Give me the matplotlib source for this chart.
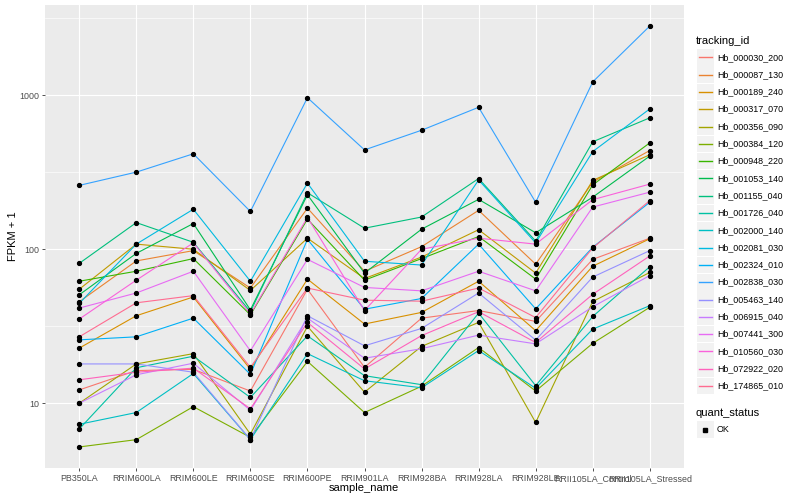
import numpy as np
import matplotlib
matplotlib.use("Agg")
import matplotlib.pyplot as plt
from matplotlib.lines import Line2D
from matplotlib.patches import Rectangle

samples = ["PB350LA", "RRIM600LA", "RRIM600LE", "RRIM600SE", "RRIM600PE", "RRIM901LA",
           "RRIM928BA", "RRIM928LA", "RRIM928LE", "RRII105LA_Control", "RRII105LA_Stressed"]

tracking_ids = ["Hb_000030_200", "Hb_000087_130", "Hb_000189_240", "Hb_000317_070",
                "Hb_000356_090", "Hb_000384_120", "Hb_000948_220", "Hb_001053_140",
                "Hb_001155_040", "Hb_001726_040", "Hb_002000_140", "Hb_002081_030",
                "Hb_002324_010", "Hb_002838_030", "Hb_005463_140", "Hb_006915_040",
                "Hb_007441_300", "Hb_010560_030", "Hb_072922_020", "Hb_174865_010"]

colors = ["#F8766D", "#EA8331", "#D89000", "#C09B00", "#A3A500", "#7CAE00", "#39B600",
          "#00BB4E", "#00BF7D", "#00C1A3", "#00BFC4", "#00BAE0", "#00B0F6", "#35A2FF",
          "#9590FF", "#C77CFF", "#E76BF3", "#FA62DB", "#FF62BC", "#FF6C91"]

# FPKM + 1 values per tracking id, one value per sample
Hb_000030_200 = [12.2, 16.3, 16.6, 12.0, 55, 17.1, 35.7, 40, 34, 86, 118]
Hb_000087_130 = [45.6, 84, 98, 56, 185, 72, 104, 179, 80, 273, 438]
Hb_000189_240 = [22.8, 37, 49, 16.6, 64, 32.7, 38.9, 62, 29.6, 77.6, 117]
Hb_000317_070 = [55, 108, 100, 54, 118, 64.6, 89, 134, 70, 280, 411]
Hb_000356_090 = [10, 18, 21, 6.3, 31.6, 11.8, 23.4, 33.5, 7.5, 45.8, 70.7]
Hb_000384_120 = [5.2, 5.8, 9.5, 6.0, 18.7, 8.7, 12.9, 23, 12.0, 24.5, 42]
Hb_000948_220 = [62, 72, 87, 37.5, 157, 63, 87, 121, 64, 262, 491]
Hb_001053_140 = [50.6, 94, 147, 40.4, 226, 70, 135, 211, 128, 218, 403]
Hb_001155_040 = [81, 149, 111, 39.3, 233, 137, 162, 288, 113, 499, 714]
Hb_001726_040 = [6.8, 17, 20.2, 10.9, 27.4, 15.1, 13.2, 38.5, 13.0, 36.6, 77]
Hb_002000_140 = [7.3, 8.7, 15.6, 5.8, 21, 14.0, 12.6, 22, 12.5, 30.3, 43]
Hb_002081_030 = [44.5, 108, 182, 62, 269, 83.6, 79, 282, 110, 431, 816]
Hb_002324_010 = [25.8, 27, 35.7, 15.4, 116, 40.8, 47.9, 108, 41, 103, 202]
Hb_002838_030 = [260, 317, 417, 176, 965, 442, 593, 836, 202, 1222, 2818]
Hb_005463_140 = [18, 18, 15.9, 5.8, 37, 23.6, 30.6, 52, 25.7, 66, 98]
Hb_006915_040 = [10, 15.3, 18.2, 9.0, 35.7, 19.6, 22.6, 27.7, 24.3, 42.3, 67.5]
Hb_007441_300 = [41.5, 52, 72, 21.9, 86, 56.5, 53.7, 72, 53.7, 188, 235]
Hb_010560_030 = [35.2, 63, 110, 38, 161, 40, 100, 118, 108, 210, 265]
Hb_072922_020 = [14.2, 15.9, 16.9, 9.2, 33.5, 16.7, 27.5, 39.3, 24.8, 51, 90.5]
Hb_174865_010 = [27, 44.9, 50, 17.1, 56, 46.7, 46, 56, 36, 102, 207]

series = [Hb_000030_200, Hb_000087_130, Hb_000189_240, Hb_000317_070, Hb_000356_090,
          Hb_000384_120, Hb_000948_220, Hb_001053_140, Hb_001155_040, Hb_001726_040,
          Hb_002000_140, Hb_002081_030, Hb_002324_010, Hb_002838_030, Hb_005463_140,
          Hb_006915_040, Hb_007441_300, Hb_010560_030, Hb_072922_020, Hb_174865_010]

y_breaks = [10, 100, 1000]
y_minor = [10 ** 1.5, 10 ** 2.5, 10 ** 3.5]

W, H = 800, 500
fig = plt.figure(figsize=(8, 5), dpi=100)
fig.patch.set_facecolor("white")
FONT = "Liberation Sans"
plt.rcParams["font.family"] = [FONT, "DejaVu Sans"]

pl, pr, pt, pb = 45, 684, 5, 468
ax = fig.add_axes([pl / W, 1 - pb / H, (pr - pl) / W, (pb - pt) / H])
ax.set_facecolor("#EBEBEB")
for s in ax.spines.values():
    s.set_visible(False)

x = np.arange(len(samples))
ax.set_yscale("log")
allv = np.log10(np.concatenate([np.asarray(s, float) for s in series]))
lo, hi = allv.min(), allv.max()
r = hi - lo
ax.set_ylim(10 ** (lo - 0.05 * r), 10 ** (hi + 0.05 * r))
ax.set_xlim(-0.6, len(samples) - 1 + 0.6)

# grid
for yv in y_minor:
    ax.axhline(yv, color="white", lw=0.45, zorder=0.5)
for yv in y_breaks:
    ax.axhline(yv, color="white", lw=0.85, zorder=0.6)
for xv in x:
    ax.axvline(xv, color="white", lw=0.85, zorder=0.6)

for vals, c in zip(series, colors):
    ax.plot(x, vals, color=c, lw=0.8, zorder=2, solid_capstyle="butt")
for vals in series:
    ax.plot(x, vals, ls="none", marker="o", ms=2.8, color="black", zorder=3)

ax.set_yticks(y_breaks)
ax.set_yticklabels([str(v) for v in y_breaks])
ax.yaxis.set_minor_locator(matplotlib.ticker.NullLocator())
ax.set_xticks(x)
ax.set_xticklabels(samples)
ax.tick_params(axis="both", which="major", length=2.5, width=0.6, color="#333333",
               labelsize=6.4, labelcolor="#4D4D4D", pad=1.8)

fig.text(364 / W, 1 - 488 / H, "sample_name", ha="center", va="center", fontsize=8, color="black")
fig.text(13 / W, 1 - 236 / H, "FPKM + 1", ha="center", va="center", rotation=90, fontsize=8, color="black")


def fx(px):
    return px / W


def fy(py):
    return 1 - py / H


# legend: tracking_id
fig.text(fx(696), fy(41), "tracking_id", ha="left", va="center", fontsize=8, color="black")
step = 17.3
y0 = 57.3
for i, (name, c) in enumerate(zip(tracking_ids, colors)):
    yc = y0 + i * step
    fig.add_artist(Rectangle((fx(697), fy(yc + 8.3)), 16.6 / W, 16.6 / H,
                             transform=fig.transFigure, facecolor="#F2F2F2", edgecolor="none",
                             zorder=1))
    fig.add_artist(Line2D([fx(698.5), fx(711.5)], [fy(yc), fy(yc)], transform=fig.transFigure,
                          color=c, lw=1.0, zorder=3))
    fig.text(fx(717), fy(yc), name, ha="left", va="center", fontsize=6.4, color="black")

# legend: quant_status
fig.text(fx(696), fy(413), "quant_status", ha="left", va="center", fontsize=8, color="black")
yc = 429.5
fig.add_artist(Rectangle((fx(697), fy(yc + 8.3)), 16.6 / W, 16.6 / H,
                         transform=fig.transFigure, facecolor="#F2F2F2", edgecolor="none",
                         zorder=1))
fig.add_artist(Line2D([fx(705)], [fy(yc)], transform=fig.transFigure, ls="none",
                      marker="s", ms=2.2, color="black", zorder=3))
fig.text(fx(717), fy(yc), "OK", ha="left", va="center", fontsize=6.4, color="black")

fig.savefig("out.png", dpi=100)
